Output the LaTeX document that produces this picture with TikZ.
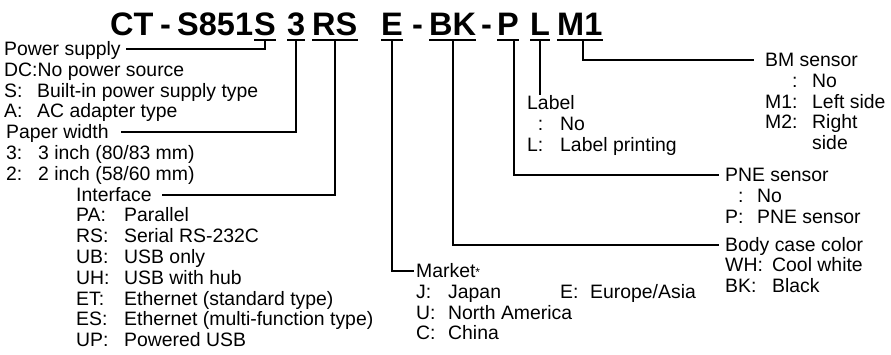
\documentclass[tikz,border=0pt]{standalone}
\usepackage{fontspec}
\setmainfont{Liberation Sans}
\newcommand\cc[2]{\makebox[#1pt][l]{#2}}
\tikzset{
  lbl/.style={anchor=base west, inner sep=0pt, font=\fontsize{19.4}{21}\selectfont},
  ttl/.style={anchor=base west, inner sep=0pt, font=\fontsize{32.5}{34}\selectfont\bfseries},
  conn/.style={line width=2pt},
  uline/.style={line width=2.5pt},
}
\begin{document}
\begin{tikzpicture}[x=1pt,y=-1pt]
\useasboundingbox (0,0) rectangle (891,354);
% title
\node[ttl] (tCT) at (110,35) {CT};
\node[ttl] (tdash0) at (160,35) {-};
\node[ttl] (tnum) at (177,35) {S851};
\node[ttl] (tS) at (254,35) {S};
\node[ttl] (t3) at (287,35) {3};
\node[ttl] (tRS) at (312,35) {RS};
\node[ttl] (tE) at (381,35) {E};
\node[ttl] (tdash1) at (412,35) {-};
\node[ttl] (tBK) at (429,35) {BK};
\node[ttl] (tdash2) at (481,35) {-};
\node[ttl] (tP) at (497,35) {P};
\node[ttl] (tL) at (530,35) {L};
\node[ttl] (tM) at (557,35) {M1};
\foreach \n in {tS,t3,tRS,tE,tBK,tP,tL,tM}
  \draw[uline] ([yshift=-5pt]\n.base west) -- ([yshift=-5pt]\n.base east);
% left groups
\node[lbl] (ps) at (4,55.5) {Power supply};
\node[lbl] (ps1) at (4,76.3) {DC:No power source};
\node[lbl] (ps2) at (4,97.1) {\cc{33}{S:}Built-in power supply type};
\node[lbl] (ps3) at (4,117.9) {\cc{33}{A:}AC adapter type};
\node[lbl] (pw) at (6,138.7) {Paper width};
\node[lbl] (pw1) at (6,159.5) {\cc{32}{3:}3 inch (80/83 mm)};
\node[lbl] (pw2) at (6,180.3) {\cc{32}{2:}2 inch (58/60 mm)};
\node[lbl] (if) at (76,201.1) {Interface};
\node[lbl] (if1) at (76,221.9) {\cc{48}{PA:}Parallel};
\node[lbl] (if2) at (76,242.7) {\cc{48}{RS:}Serial RS-232C};
\node[lbl] (if3) at (76,263.5) {\cc{48}{UB:}USB only};
\node[lbl] (if4) at (76,284.3) {\cc{48}{UH:}USB with hub};
\node[lbl] (if5) at (76,305.1) {\cc{48}{ET:}Ethernet (standard type)};
\node[lbl] (if6) at (76,325.9) {\cc{48}{ES:}Ethernet (multi-function type)};
\node[lbl] (if7) at (76,346.7) {\cc{48}{UP:}Powered USB};
% market
\node[lbl] (mk) at (416,277.5) {Market{\fontsize{12}{12}\selectfont\raisebox{1pt}{*}}};
\node[lbl] (mk1) at (416,298.3) {\cc{32}{J:}\cc{112}{Japan}\cc{30}{E:}Europe/Asia};
\node[lbl] (mk2) at (416,319.1) {\cc{32}{U:}North America};
\node[lbl] (mk3) at (416,339.9) {\cc{32}{C:}China};
% label
\node[lbl] (lab) at (527,109.5) {Label};
\node[lbl] (lab1) at (527,130.3) {\cc{33}{\phantom{L}:}No};
\node[lbl] (lab2) at (527,151.1) {\cc{33}{L:}Label printing};
% BM sensor
\node[lbl] (bm) at (765,66.5) {BM sensor};
\node[lbl] (bm1) at (765,87.3) {\cc{47}{\phantom{M1}:}No};
\node[lbl] (bm2) at (765,108.1) {\cc{47}{M1:}Left side};
\node[lbl] (bm3) at (765,128.9) {\cc{47}{M2:}Right};
\node[lbl] (bm4) at (765,149.7) {\cc{47}{}side};
% PNE sensor
\node[lbl] (pne) at (725,181.5) {PNE sensor};
\node[lbl] (pne1) at (725,202.3) {\cc{32}{\phantom{P}:}No};
\node[lbl] (pne2) at (725,223.1) {\cc{32}{P:}PNE sensor};
% body case color
\node[lbl] (body) at (725,251) {Body case color};
\node[lbl] (body1) at (725,271.8) {\cc{47}{WH:}Cool white};
\node[lbl] (body2) at (725,292.6) {\cc{47}{BK:}Black};
% connectors
\draw[conn] ([yshift=-5pt]tS.base) |- ([xshift=5pt,yshift=6.5pt]ps.base east);
\draw[conn] ([yshift=-5pt]t3.base) |- ([xshift=12pt,yshift=6.5pt]pw.base east);
\draw[conn] ([yshift=-5pt]tRS.base) |- ([xshift=10pt,yshift=6.5pt]if.base east);
\draw[conn] ([yshift=-5pt]tE.base) |- ([xshift=-2pt,yshift=6.5pt]mk.base west);
\draw[conn] ([yshift=-5pt]tBK.base) |- ([xshift=-6pt,yshift=6.5pt]body.base west);
\draw[conn] ([xshift=6pt,yshift=-5pt]tP.base) |- ([xshift=-6pt,yshift=6.5pt]pne.base west);
\draw[conn] ([yshift=-5pt]tL.base) -- (tL.base |- lab.north);
\draw[conn] ([xshift=3pt,yshift=-5pt]tM.base) |- ([xshift=-11pt,yshift=6.5pt]bm.base west);
\end{tikzpicture}
\end{document}
